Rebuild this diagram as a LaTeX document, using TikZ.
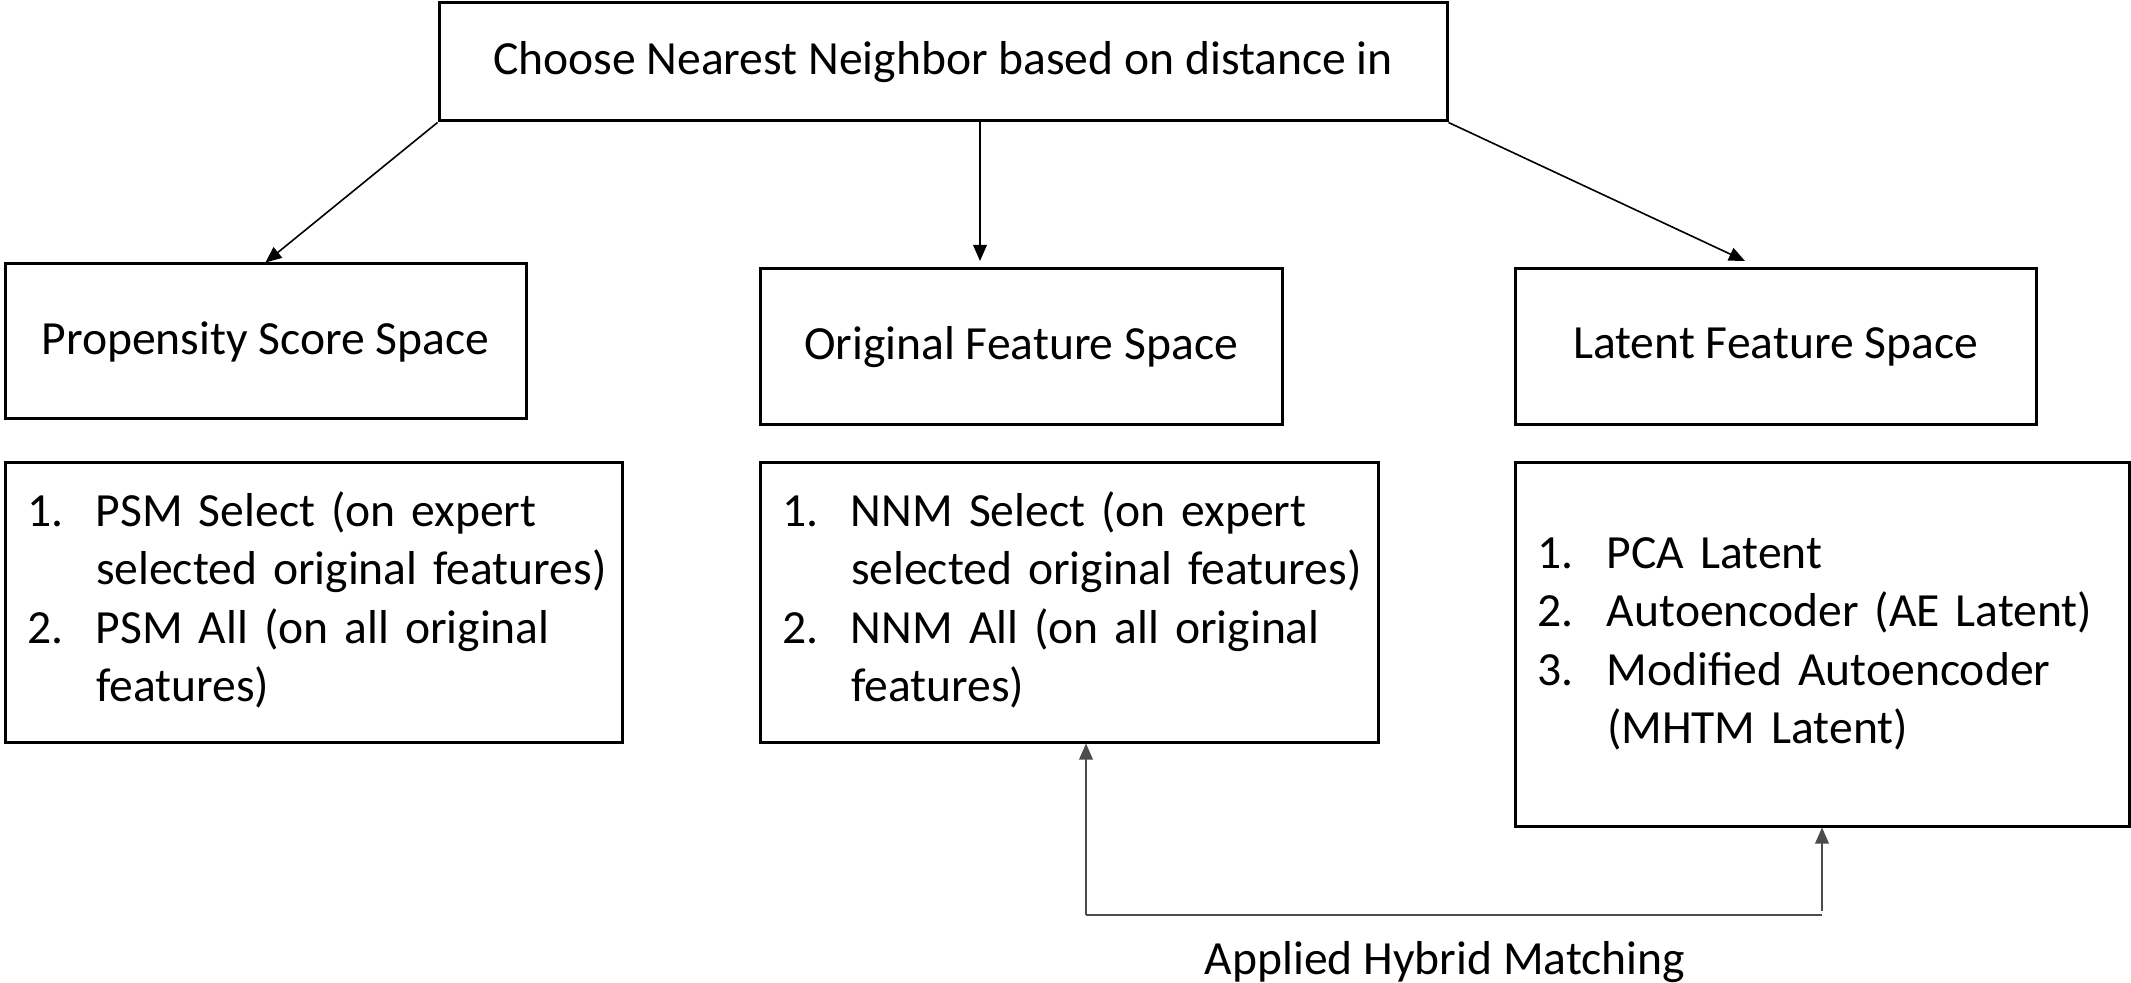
\documentclass[tikz,border=0pt]{standalone}
\usepackage{fontspec}
\setmainfont{Carlito}
\usetikzlibrary{arrows.meta}

\tikzset{
  spacebox/.style={draw, line width=0.75pt, minimum width=#1, minimum height=39pt, inner sep=0pt},
  listbox/.style={draw, line width=0.75pt, text width=#1, align=left, inner xsep=5.5pt, inner ysep=0pt},
  conn/.style={line width=0.4pt, -{Triangle[length=4pt,width=3.4pt]}},
  hybrid/.style={line width=0.5pt, draw=black!70}
}

\begin{document}
\begin{tikzpicture}[x=0.25pt,y=0.25pt,yscale=-1,xscale=1,font=\fontsize{11.9}{14.6}\selectfont]
\useasboundingbox (0,0) rectangle (2131,983);

% Top box
\node [draw, line width=0.75pt, minimum width=252pt, minimum height=29.5pt, inner sep=0pt] (choose) at (943,62) {Choose Nearest Neighbor based on distance in};

% Space boxes
\node [spacebox=130.25pt, minimum height=38.75pt] (propensity) at (265.5,341.5) {Propensity Score Space};
\node [spacebox=130.5pt] (original) at (1021,347) {Original Feature Space};
\node [spacebox=130.25pt] (latent) at (1775.5,347) {Latent Feature Space};

% List boxes
\node [listbox=143.25pt, minimum height=69.75pt] (psmlist) at (313.5,602.5) {%
\begin{tabular}{@{}p{17.25pt}@{}l@{}}
1. & PSM Select (on expert\\
   & selected original features)\\
2. & PSM All (on all original\\
   & features)
\end{tabular}};
\node [listbox=143.5pt, minimum height=69.75pt] (nnmlist) at (1069,602.5) {%
\begin{tabular}{@{}p{17.25pt}@{}l@{}}
1. & NNM Select (on expert\\
   & selected original features)\\
2. & NNM All (on all original\\
   & features)
\end{tabular}};
\node [listbox=142.5pt, minimum height=90.75pt] (latlist) at (1822,644.5) {%
\begin{tabular}{@{}p{17.5pt}@{}l@{}}
1. & PCA Latent\\
2. & Autoencoder (AE Latent)\\
3. & Modified Autoencoder\\
   & (MHTM Latent)
\end{tabular}};

% Arrows from top box
\coordinate (midtip) at (980,261);
\coordinate (righttip) at (1745,261);
\draw [conn] (choose.south west) -- (propensity.north);
\draw [conn] (choose.south -| midtip) -- (midtip);
\draw [conn] (choose.south east) -- (righttip);

% Hybrid matching
\coordinate (hybleft) at (1086,915);
\coordinate (hybright) at (1822,915);
\draw [hybrid] (hybleft) -- (hybright);
\draw [hybrid, conn] (hybleft) -- (nnmlist.south -| hybleft);
\draw [hybrid, conn] ([yshift=-1pt]hybright) -- (latlist.south -| hybright);

% Text Node
\node (hyblabel) at (1445,962) {Applied Hybrid Matching};

\end{tikzpicture}
\end{document}
